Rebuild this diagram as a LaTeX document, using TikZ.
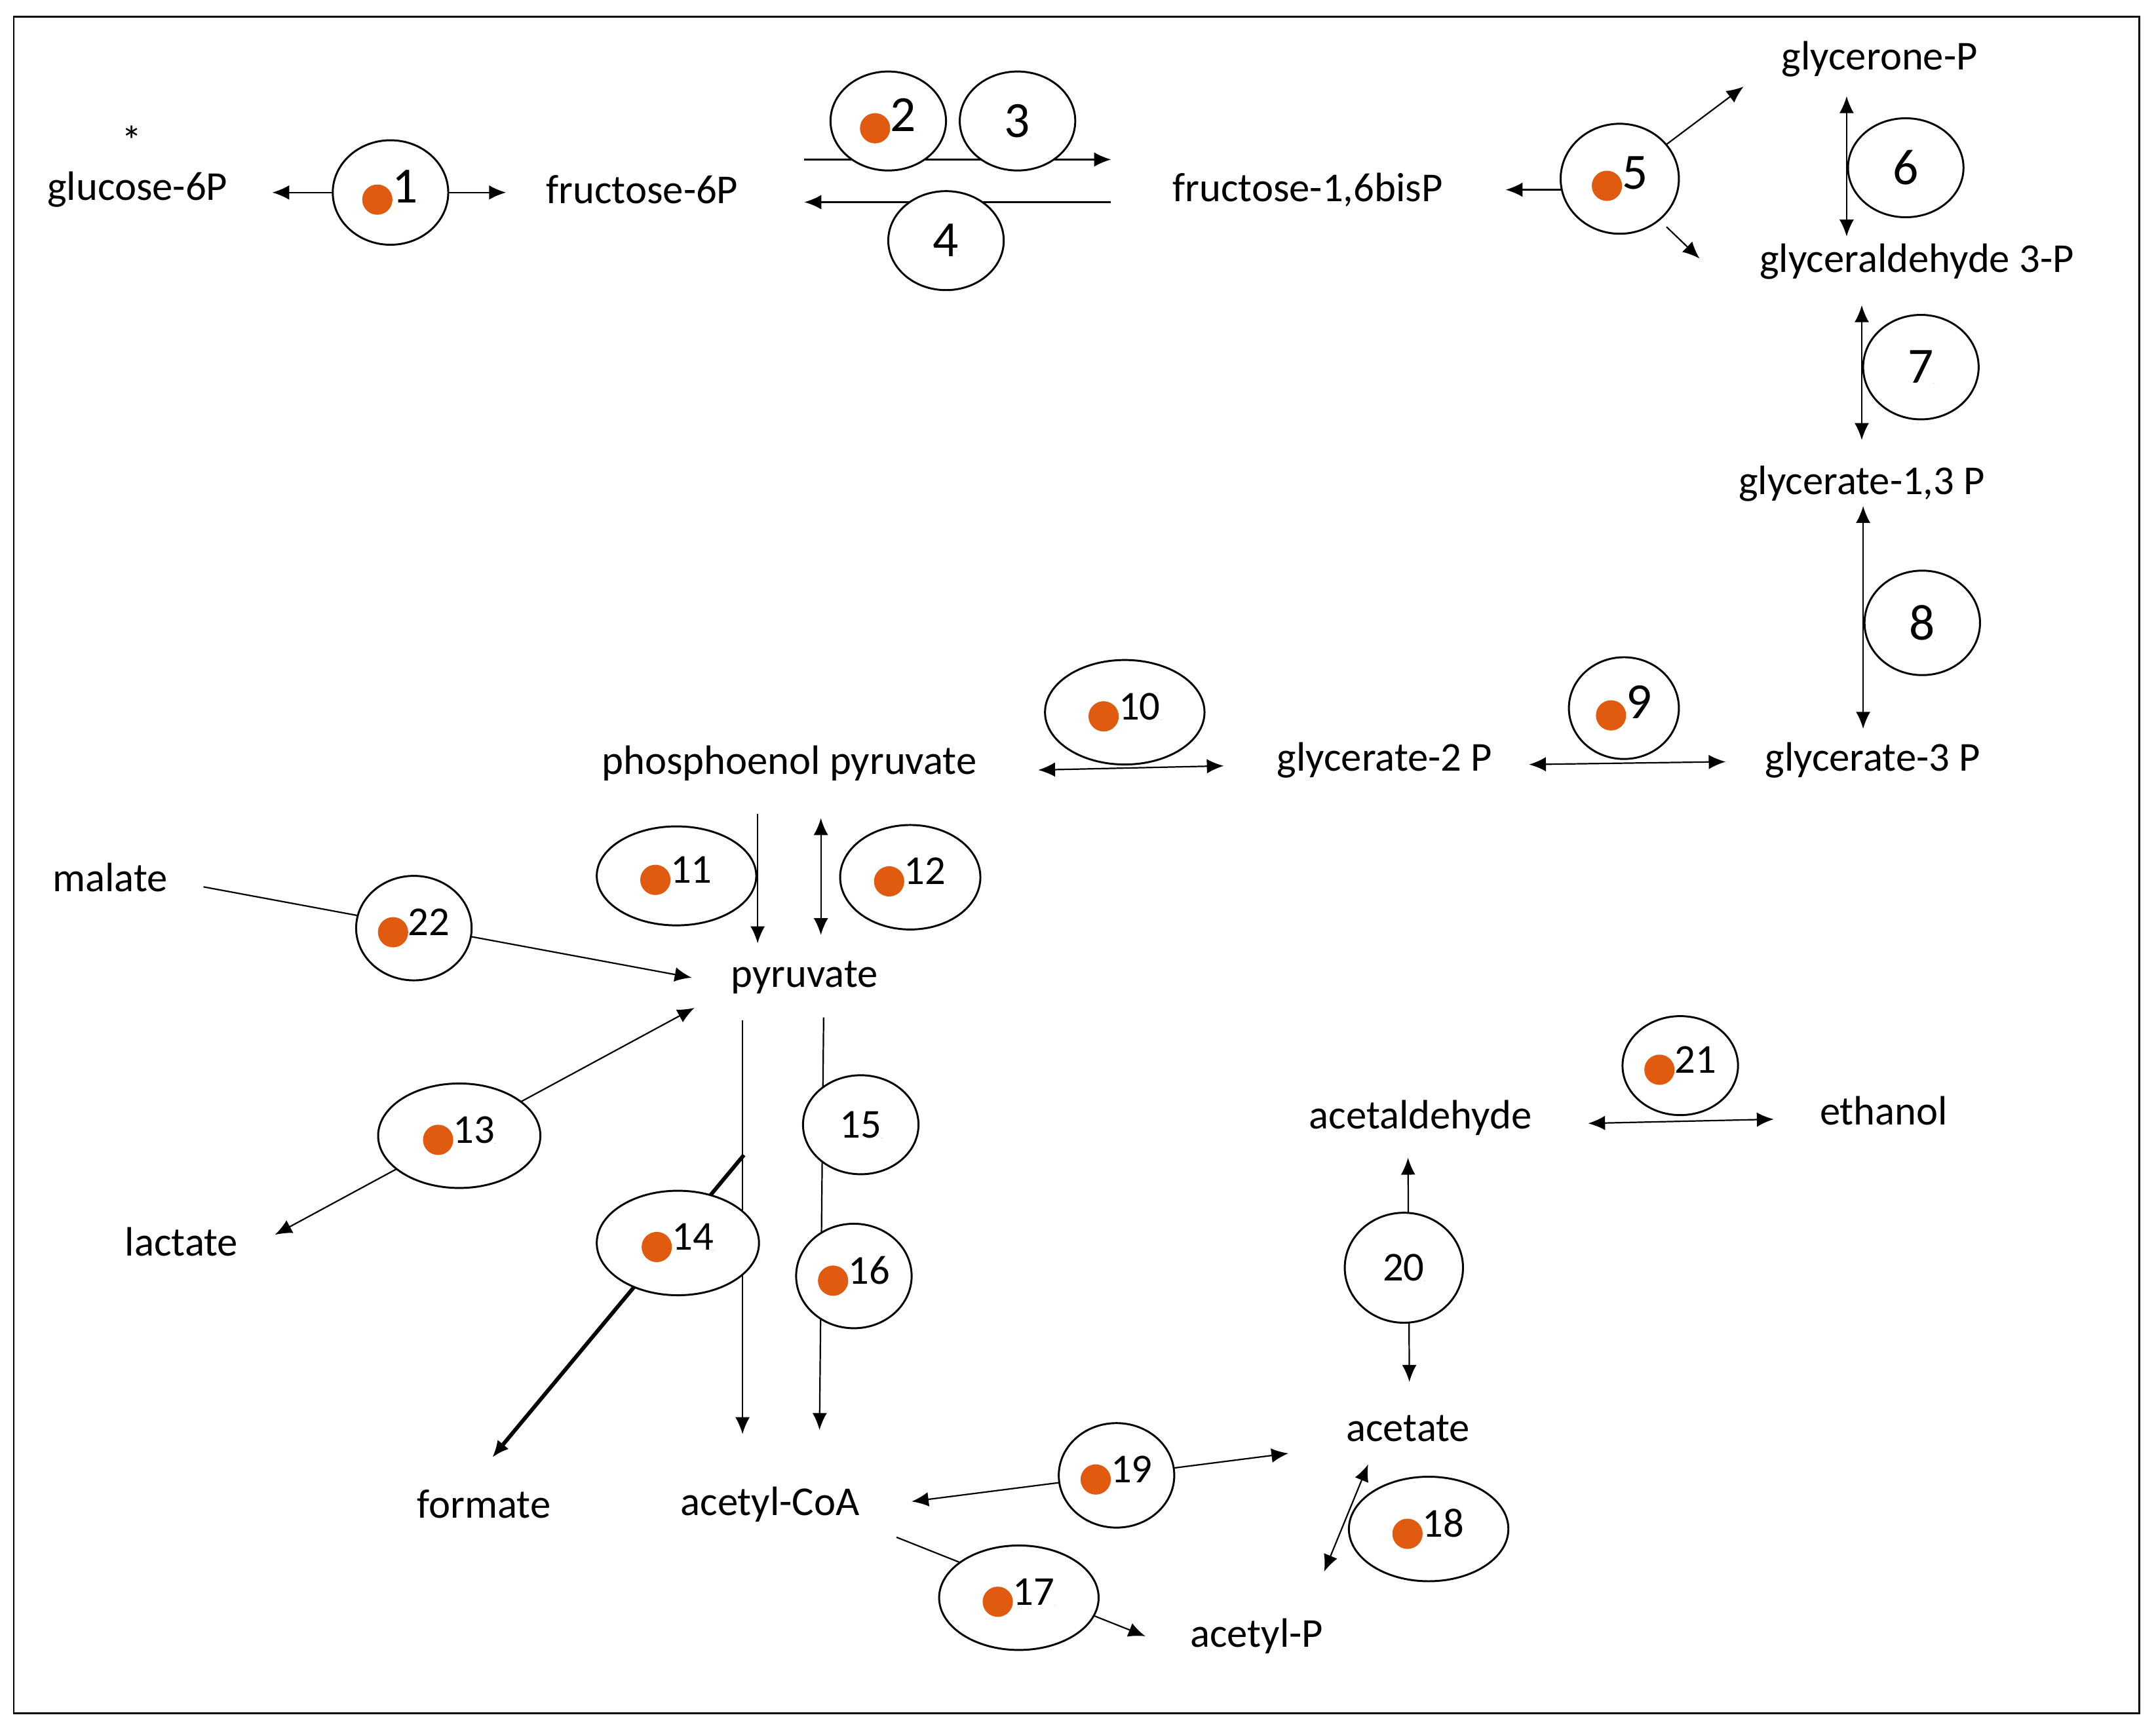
\documentclass[tikz,border=0pt]{standalone}
\usepackage{fontspec}
\setmainfont{Carlito}
\usetikzlibrary{shapes.geometric,arrows.meta}
\definecolor{dotc}{RGB}{224,90,16}
\definecolor{tric}{RGB}{20,176,230}
\newcommand\dotO{\tikz[baseline=-0.05cm]\fill[dotc] (0,0.12) circle (0.22cm);}
\newcommand\triB{\tikz[baseline=0]\fill[tric] (0,0)--(0.46,0)--(0.23,0.42)--cycle;}
\begin{document}
\begin{tikzpicture}[x=0.02cm,y=-0.02cm,
  lab/.style={font=\fontsize{17}{19}\selectfont,inner sep=1pt},
  enz/.style 2 args={ellipse,draw,thick,fill=white,minimum width=#1*0.02cm,minimum height=#2*0.02cm,inner sep=0pt},
  big/.style={font=\fontsize{21}{23}\selectfont},
  sm/.style={font=\fontsize{17}{19}\selectfont},
  ar/.style={-{Latex[length=7pt,width=6pt]},semithick},
  dar/.style={{Latex[length=7pt,width=6pt]}-{Latex[length=7pt,width=6pt]},semithick}]
\useasboundingbox (0,0) rectangle (1568,1258);
\draw[thick] (10,12) rectangle (1556,1246);
% labels
\node[lab] (g6p) at (100,138) {glucose-6P};
\node[lab] (star) at (96,102) {*};
\node[lab] (f6p) at (467,138) {fructose-6P};
\node[lab] (fbp) at (951,138) {fructose-1,6bisP};
\node[lab] (gnp) at (1367,43) {glycerone-P};
\node[lab] (gap) at (1394,190) {glyceraldehyde 3-P};
\node[lab] (g13) at (1354,352) {glycerate-1,3 P};
\node[lab] (g3p) at (1362,553) {glycerate-3 P};
\node[lab] (g2p) at (1007,553) {glycerate-2 P};
\node[lab] (pep) at (574,555) {phosphoenol pyruvate};
\node[lab] (mal) at (80,638) {malate};
\node[lab] (pyr) at (585,711) {pyruvate};
\node[lab] (lac) at (132,903) {lactate};
\node[lab] (for) at (352,1094) {formate};
\node[lab] (aco) at (560,1094) {acetyl-CoA};
\node[lab] (ace) at (1024,1039) {acetate};
\node[lab] (acp) at (914,1190) {acetyl-P};
\node[lab] (ald) at (1033,813) {acetaldehyde};
\node[lab] (eth) at (1370,808) {ethanol};
% endpoints
\coordinate (a1) at (198,140); \coordinate (b1) at (368,140);
\coordinate (a2) at (585,116); \coordinate (b2) at (808,116);
\coordinate (a4) at (808,147); \coordinate (b4) at (585,147);
\coordinate (a5) at (1095,138); \coordinate (c5) at (1140,138);
\coordinate (d5) at (1212,105); \coordinate (e5) at (1268,63);
\coordinate (f5) at (1212,165); \coordinate (h5) at (1236,188);
\coordinate (a6) at (1343,70); \coordinate (b6) at (1343,172);
\coordinate (a7) at (1354,222); \coordinate (b7) at (1354,320);
\coordinate (a8) at (1355,368); \coordinate (b8) at (1355,530);
\coordinate (a9) at (1112,556); \coordinate (b9) at (1255,554);
\coordinate (a10) at (755,560); \coordinate (b10) at (890,557);
\coordinate (a11) at (551,592); \coordinate (b11) at (551,686);
\coordinate (a12) at (597,595); \coordinate (b12) at (597,680);
\coordinate (a22) at (148,645); \coordinate (b22) at (503,711);
\coordinate (a13) at (200,898); \coordinate (b13) at (505,733);
\coordinate (a14) at (541,840); \coordinate (b14) at (358,1060);
\coordinate (c14) at (540,742); \coordinate (d14) at (540,1043);
\coordinate (a15) at (599,740); \coordinate (b15) at (596,1040);
\coordinate (a19) at (663,1092); \coordinate (b19) at (937,1057);
\coordinate (a18) at (995,1065); \coordinate (b18) at (963,1143);
\coordinate (a17) at (652,1118); \coordinate (b17) at (833,1190);
\coordinate (a20) at (1024,842); \coordinate (b20) at (1025,1005);
\coordinate (a21) at (1155,817); \coordinate (b21) at (1290,814);
% connectors
\draw[dar] (a1) -- (b1);
\draw[ar] (a2) -- (b2);
\draw[ar] (a4) -- (b4);
\draw[ar] (c5) -- (a5);
\draw[ar] (d5) -- (e5);
\draw[ar] (f5) -- (h5);
\draw[dar] (a6) -- (b6);
\draw[dar] (a7) -- (b7);
\draw[dar] (a8) -- (b8);
\draw[dar] (a9) -- (b9);
\draw[dar] (a10) -- (b10);
\draw[ar] (a11) -- (b11);
\draw[dar] (a12) -- (b12);
\draw[ar] (a22) -- (b22);
\draw[dar] (a13) -- (b13);
\draw[ar,line width=1.6pt] (a14) -- (b14);
\draw[ar] (c14) -- (d14);
\draw[ar] (a15) -- (b15);
\draw[dar] (a19) -- (b19);
\draw[dar] (a18) -- (b18);
\draw[ar] (a17) -- (b17);
\draw[dar] (a20) -- (b20);
\draw[dar] (a21) -- (b21);
% enzymes
\node[enz={84}{76},big] (e1) at (284,140) {\dotO1\triB};
\node[enz={84}{72},big] (e2) at (646,88) {\dotO2\triB};
\node[enz={84}{72},big] (e3) at (740,88) {3\triB};
\node[enz={84}{72},big] (e4) at (688,175) {4\triB};
\node[enz={86}{80},big] (e5) at (1178,130) {\dotO5};
\node[enz={84}{72},big] (e6) at (1386,122) {6\triB};
\node[enz={84}{76},big] (e7) at (1397,267) {7\triB};
\node[enz={84}{76},big] (e8) at (1398,453) {8\triB};
\node[enz={80}{74},big] (e9) at (1181,515) {\dotO9};
\node[enz={116}{76},sm] (e10) at (818,518) {\dotO10\triB};
\node[enz={116}{72},sm] (e11) at (492,637) {\dotO11\triB};
\node[enz={102}{76},sm] (e12) at (662,638) {\dotO12\triB};
\node[enz={84}{76},sm] (e22) at (301,675) {\dotO22};
\node[enz={118}{76},sm] (e13) at (334,826) {\dotO13\triB};
\node[enz={118}{76},sm] (e14) at (493,904) {\dotO14\triB};
\node[enz={84}{72},sm] (e15) at (626,818) {15\triB};
\node[enz={84}{76},sm] (e16) at (621,928) {\dotO16};
\node[enz={84}{76},sm] (e19) at (812,1073) {\dotO19};
\node[enz={116}{76},sm] (e18) at (1039,1112) {\dotO18\triB};
\node[enz={116}{76},sm] (e17) at (741,1162) {\dotO17\triB};
\node[enz={86}{80},sm] (e20) at (1021,922) {20\triB};
\node[enz={84}{72},sm] (e21) at (1222,775) {\dotO21};
\end{tikzpicture}
\end{document}
